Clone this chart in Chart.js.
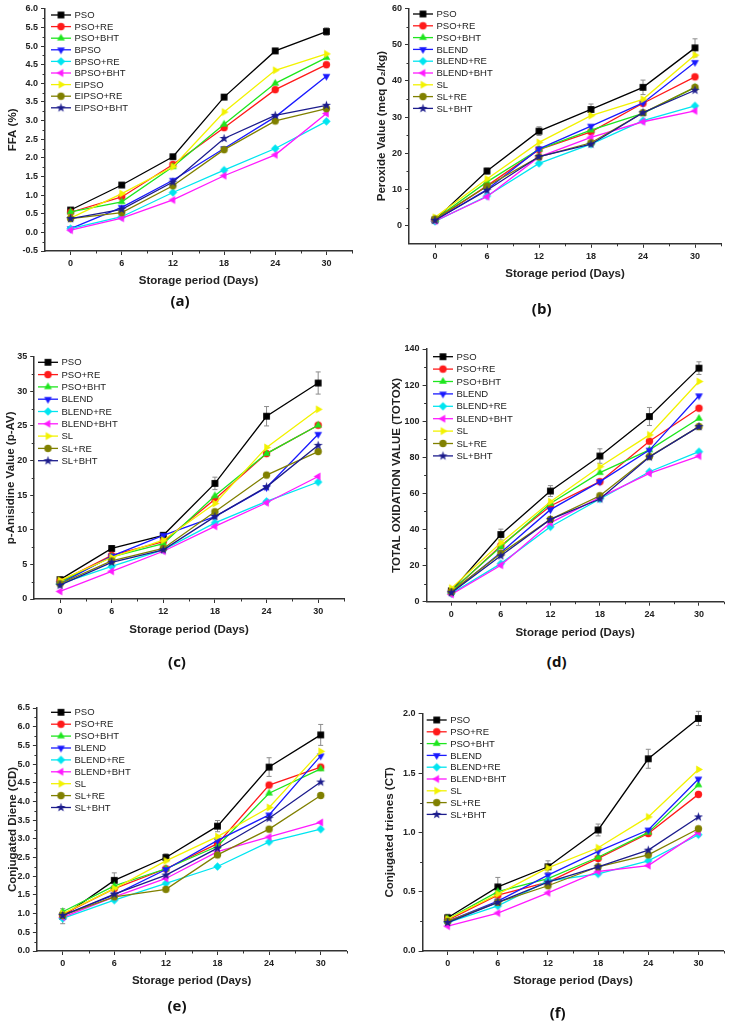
<!DOCTYPE html>
<html>
<head>
<meta charset="utf-8">
<script src="https://cdn.jsdelivr.net/npm/chart.js@4.4.0/dist/chart.umd.min.js"></script>
<style>
  body { margin: 0; background: #fff; }
  #page { position: relative; width: 729px; height: 1021px; overflow: hidden; }
  #page canvas { position: absolute; }
  .tag { position: absolute; font: bold 15px "Open Sans", Arial, sans-serif; color: #111; transform: translate(-50%, -50%); }
</style>
</head>
<body>
<div id="page"></div>
<script>
// storage days on the x axis
const days = [0, 6, 12, 18, 24, 30];
const dayTicks = [0, 6, 12, 18, 24, 30];

const namesTop = ["PSO", "PSO+RE", "PSO+BHT", "BPSO", "BPSO+RE", "BPSO+BHT", "EIPSO", "EIPSO+RE", "EIPSO+BHT"];
const namesRest = ["PSO", "PSO+RE", "PSO+BHT", "BLEND", "BLEND+RE", "BLEND+BHT", "SL", "SL+RE", "SL+BHT"];

const colors = ["#000000", "#ff1a1a", "#1ee61e", "#1a1aff", "#00e5f0", "#ff1aff", "#f2f200", "#808000", "#1c1c8c"];
const shapes = ["square", "circle", "up", "down", "diamond", "left", "right", "circle", "star"];

// (a) FFA (%)
const ffa = [
  [0.60, 1.27, 2.03, 3.63, 4.87, 5.39],
  [0.54, 0.95, 1.82, 2.81, 3.83, 4.50],
  [0.55, 0.82, 1.76, 2.90, 4.00, 4.69],
  [0.10, 0.67, 1.40, 2.25, 3.10, 4.19],
  [0.10, 0.42, 1.07, 1.67, 2.25, 2.98],
  [0.06, 0.38, 0.87, 1.52, 2.08, 3.19],
  [0.38, 1.04, 1.76, 3.23, 4.35, 4.79],
  [0.37, 0.53, 1.25, 2.22, 2.99, 3.32],
  [0.37, 0.62, 1.35, 2.52, 3.14, 3.41]
];
const ffaErr = [0.05, 0.05, 0.05, 0.07, 0.07, 0.1];

// (b) peroxide value
const peroxide = [
  [1.6, 15.1, 26.1, 32.1, 38.2, 49.1],
  [1.5, 11.0, 21.0, 25.9, 33.8, 41.1],
  [1.8, 12.1, 21.1, 26.4, 31.0, 38.2],
  [1.5, 10.0, 21.2, 27.5, 33.9, 45.1],
  [1.2, 8.2, 17.2, 22.5, 29.0, 33.1],
  [1.3, 8.0, 19.0, 24.4, 28.7, 31.7],
  [2.3, 12.9, 23.0, 30.4, 34.9, 47.1],
  [1.8, 10.9, 19.0, 22.9, 31.2, 38.2],
  [1.5, 9.8, 19.1, 22.5, 31.2, 37.4]
];
const peroxideErr = [0.3, 0.8, 1.2, 1.5, 2.0, 2.5];

// (c) p-anisidine value
const anisidine = [
  [2.8, 7.3, 9.2, 16.7, 26.4, 31.2],
  [2.5, 6.3, 8.3, 14.4, 21.0, 25.1],
  [2.4, 6.1, 8.0, 14.9, 21.0, 25.1],
  [2.2, 6.2, 9.2, 11.9, 16.1, 23.8],
  [2.2, 4.7, 7.1, 11.0, 14.1, 16.9],
  [1.1, 4.0, 6.9, 10.5, 13.9, 17.7],
  [2.7, 6.0, 8.5, 13.8, 21.9, 27.4],
  [2.2, 5.5, 7.3, 12.6, 17.9, 21.3],
  [2.0, 5.3, 7.1, 11.9, 16.2, 22.2]
];
const anisidineErr = [0.3, 0.4, 0.4, 0.9, 1.4, 1.6];

// (d) TOTOX
const totox = [
  [6.0, 37.2, 61.3, 80.7, 102.6, 129.4],
  [5.5, 31.0, 53.0, 66.5, 88.9, 107.2],
  [6.0, 30.4, 54.4, 71.5, 84.1, 101.5],
  [5.0, 27.2, 51.0, 66.5, 84.0, 114.1],
  [4.5, 21.1, 41.5, 56.9, 72.0, 83.1],
  [4.0, 20.2, 43.7, 57.8, 71.1, 80.7],
  [7.5, 32.6, 55.4, 74.8, 92.4, 122.0],
  [5.5, 26.7, 45.6, 58.7, 80.4, 97.0],
  [5.0, 25.4, 45.6, 56.9, 80.2, 97.0]
];
const totoxErr = [1, 3, 3, 4, 5, 3.5];

// (e) conjugated diene
const diene = [
  [0.93, 1.89, 2.50, 3.34, 4.92, 5.78],
  [0.98, 1.67, 2.20, 2.87, 4.44, 4.92],
  [1.05, 1.74, 2.20, 2.80, 4.22, 4.87],
  [0.95, 1.50, 2.18, 2.96, 3.64, 5.22],
  [0.87, 1.36, 1.81, 2.26, 2.92, 3.26],
  [0.90, 1.45, 1.94, 2.66, 3.05, 3.44],
  [1.00, 1.67, 2.41, 3.06, 3.84, 5.34],
  [0.95, 1.45, 1.65, 2.57, 3.26, 4.16],
  [0.95, 1.52, 2.03, 2.75, 3.55, 4.52]
];
const dieneErr = [0.2, 0.2, 0.1, 0.15, 0.25, 0.28];

// (f) conjugated trienes
const trienes = [
  [0.28, 0.54, 0.71, 1.02, 1.62, 1.96],
  [0.26, 0.47, 0.58, 0.78, 0.99, 1.32],
  [0.27, 0.50, 0.61, 0.79, 1.00, 1.40],
  [0.25, 0.42, 0.64, 0.84, 1.02, 1.45],
  [0.24, 0.38, 0.59, 0.65, 0.76, 0.98],
  [0.21, 0.32, 0.49, 0.67, 0.72, 1.00],
  [0.27, 0.48, 0.70, 0.87, 1.13, 1.53],
  [0.25, 0.41, 0.55, 0.71, 0.81, 1.03],
  [0.24, 0.41, 0.58, 0.71, 0.85, 1.13]
];
const trienesErr = [0.03, 0.08, 0.05, 0.05, 0.08, 0.06];

// where each panel sits on the page
const panels = [
  { tag: "(a)", names: namesTop, values: ffa, err: ffaErr, yTitle: "FFA (%)",
    yMin: -0.5, yMax: 6, tickStart: -0.5, yStep: 0.5, dec: 1,
    box: [0, 0, 365, 300], area: [45, 8.8, 352, 251], yTitleX: 12.5, xTitleY: 281,
    legend: [51, 15, 11.6], tagPos: [180, 300] },
  { tag: "(b)", names: namesRest, values: peroxide, err: peroxideErr, yTitle: "Peroxide Value (meq O\u2082/kg)",
    yMin: -5, yMax: 60, tickStart: 0, yStep: 10, dec: 0,
    box: [365, 0, 364, 300], area: [409, 8, 721, 243.8], yTitleX: 382, xTitleY: 274,
    legend: [413, 14, 11.8], tagPos: [541.7, 308] },
  { tag: "(c)", names: namesRest, values: anisidine, err: anisidineErr, yTitle: "p-Anisidine Value (p-AV)",
    yMin: 0, yMax: 35, tickStart: 0, yStep: 5, dec: 0,
    box: [0, 330, 365, 320], area: [34.2, 356.7, 344, 599], yTitleX: 10.7, xTitleY: 630,
    legend: [38, 362.3, 12.3], tagPos: [177, 661] },
  { tag: "(d)", names: namesRest, values: totox, err: totoxErr, yTitle: "TOTAL OXIDATION VALUE (TOTOX)",
    yMin: 0, yMax: 140, tickStart: 0, yStep: 20, dec: 0,
    box: [365, 330, 364, 320], area: [426.6, 349, 727, 601.7], yTitleX: 397, xTitleY: 632.7,
    legend: [433, 356.7, 12.4], tagPos: [556.7, 661] },
  { tag: "(e)", names: namesRest, values: diene, err: dieneErr, yTitle: "Conjugated Diene (CD)",
    yMin: 0, yMax: 6.5, tickStart: 0, yStep: 0.5, dec: 1,
    box: [0, 680, 365, 320], area: [36.9, 708, 346.5, 951], yTitleX: 12.5, xTitleY: 981,
    legend: [51, 712.3, 11.9], tagPos: [177, 1005] },
  { tag: "(f)", names: namesRest, values: trienes, err: trienesErr, yTitle: "Conjugated trienes (CT)",
    yMin: 0, yMax: 2, tickStart: 0, yStep: 0.5, dec: 1,
    box: [365, 680, 364, 320], area: [422.6, 713.7, 723.5, 951], yTitleX: 390, xTitleY: 980.7,
    legend: [426.7, 720, 11.8], tagPos: [557.7, 1012] }
];

Chart.defaults.font.family = '"Liberation Sans", Arial, sans-serif';
Chart.defaults.color = "#222";

// small filled marker drawn once and reused as a point style
function marker(shape, color) {
  const c = document.createElement("canvas");
  c.width = 11; c.height = 11;
  const g = c.getContext("2d");
  g.translate(5.5, 5.5);
  g.fillStyle = color;
  g.beginPath();
  const poly = (r, start, n) => {
    for (let k = 0; k < n; k++) {
      const a = (start + k * 360 / n) * Math.PI / 180;
      if (k === 0) g.moveTo(r * Math.cos(a), r * Math.sin(a));
      else g.lineTo(r * Math.cos(a), r * Math.sin(a));
    }
    g.closePath();
  };
  if (shape === "square") g.rect(-3.4, -3.4, 6.8, 6.8);
  else if (shape === "circle") g.arc(0, 0, 3.7, 0, Math.PI * 2);
  else if (shape === "up") poly(4.5, -90, 3);
  else if (shape === "down") poly(4.5, 90, 3);
  else if (shape === "left") poly(4.5, 180, 3);
  else if (shape === "right") poly(4.5, 0, 3);
  else if (shape === "diamond") poly(4.2, -90, 4);
  else if (shape === "star") {
    for (let k = 0; k < 10; k++) {
      const r = k % 2 ? 1.9 : 4.8;
      const a = (-90 + k * 36) * Math.PI / 180;
      if (k === 0) g.moveTo(r * Math.cos(a), r * Math.sin(a));
      else g.lineTo(r * Math.cos(a), r * Math.sin(a));
    }
    g.closePath();
  }
  g.fill();
  return c;
}

const markers = shapes.map((s, i) => marker(s, colors[i]));

const errorBars = {
  id: "errorBars",
  beforeDatasetsDraw(chart, args, opts) {
    const err = opts.values;
    if (!err) return;
    const ctx = chart.ctx, xs = chart.scales.x, ys = chart.scales.y;
    ctx.save();
    ctx.strokeStyle = "#8c8c8c";
    ctx.lineWidth = 1;
    chart.data.datasets[0].data.forEach((p, j) => {
      const x = xs.getPixelForValue(p.x);
      const y1 = ys.getPixelForValue(p.y + err[j]);
      const y2 = ys.getPixelForValue(p.y - err[j]);
      ctx.beginPath();
      ctx.moveTo(x, y1); ctx.lineTo(x, y2);
      ctx.moveTo(x - 2.5, y1); ctx.lineTo(x + 2.5, y1);
      ctx.moveTo(x - 2.5, y2); ctx.lineTo(x + 2.5, y2);
      ctx.stroke();
    });
    ctx.restore();
  }
};

// minor ticks between the labelled ones
const minorTicks = {
  id: "minorTicks",
  afterDraw(chart) {
    const ctx = chart.ctx, xs = chart.scales.x, ys = chart.scales.y;
    ctx.save();
    ctx.strokeStyle = "#333";
    ctx.lineWidth = 1;
    ctx.beginPath();
    for (let d = 3; d <= 33; d += 6) {
      const x = Math.round(xs.getPixelForValue(d)) + 0.5;
      ctx.moveTo(x, ys.bottom); ctx.lineTo(x, ys.bottom + 2.5);
    }
    const t = ys.ticks;
    for (let k = 0; k < t.length - 1; k++) {
      const y = Math.round(ys.getPixelForValue((t[k].value + t[k + 1].value) / 2)) + 0.5;
      ctx.moveTo(xs.left, y); ctx.lineTo(xs.left - 2.5, y);
    }
    ctx.stroke();
    ctx.restore();
  }
};

const insideLegend = {
  id: "insideLegend",
  afterDatasetsDraw(chart, args, opts) {
    const ctx = chart.ctx;
    ctx.save();
    ctx.font = '9.5px "Liberation Sans", Arial, sans-serif';
    ctx.textBaseline = "middle";
    ctx.textAlign = "left";
    chart.data.datasets.forEach((ds, i) => {
      const y = opts.y + i * opts.step;
      ctx.strokeStyle = ds.borderColor;
      ctx.lineWidth = 1.3;
      ctx.beginPath();
      ctx.moveTo(opts.x, y); ctx.lineTo(opts.x + 20, y);
      ctx.stroke();
      const m = ds.pointStyle;
      ctx.drawImage(m, opts.x + 10 - m.width / 2, y - m.height / 2);
      ctx.fillStyle = "#222";
      ctx.fillText(ds.label, opts.x + 23.5, y + 0.5);
    });
    ctx.restore();
  }
};

const page = document.getElementById("page");
const titleFont = { size: 11.5, weight: "bold", lineHeight: 1.2 };
const half = 11.5 * 1.2 / 2;

panels.forEach(p => {
  const [bx, by, bw, bh] = p.box;
  const [al, at, ar, ab] = p.area;
  const canvas = document.createElement("canvas");
  canvas.width = bw; canvas.height = bh;
  canvas.style.left = bx + "px"; canvas.style.top = by + "px";
  page.appendChild(canvas);

  const tag = document.createElement("div");
  tag.className = "tag";
  tag.textContent = p.tag;
  tag.style.left = p.tagPos[0] + "px"; tag.style.top = p.tagPos[1] + "px";
  page.appendChild(tag);

  const datasets = p.values.map((vals, i) => ({
    label: p.names[i],
    data: days.map((d, j) => ({ x: d, y: vals[j] })),
    borderColor: colors[i],
    backgroundColor: colors[i],
    borderWidth: 1.3,
    pointStyle: markers[i],
    pointRadius: 4,
    tension: 0,
    order: p.values.length - i
  }));

  new Chart(canvas, {
    type: "line",
    data: { datasets },
    plugins: [errorBars, minorTicks, insideLegend],
    options: {
      responsive: false,
      animation: false,
      devicePixelRatio: 1,
      layout: { padding: { left: 0, top: at - by, right: bx + bw - ar, bottom: 0 } },
      plugins: {
        legend: { display: false },
        tooltip: { enabled: false },
        errorBars: { values: p.err },
        insideLegend: { x: p.legend[0] - bx, y: p.legend[1] - by, step: p.legend[2] }
      },
      scales: {
        x: {
          type: "linear",
          min: -3, max: 33,
          afterBuildTicks: s => { s.ticks = dayTicks.map(v => ({ value: v })); },
          afterFit: s => { s.height = by + bh - ab; },
          ticks: { font: { size: 9, weight: "bold" }, color: "#222", padding: 3, maxRotation: 0 },
          grid: { drawOnChartArea: false, drawTicks: true, tickLength: 4, color: "#333" },
          border: { display: true, color: "#333", width: 1.5 },
          title: { display: true, text: "Storage period (Days)", font: titleFont, color: "#222",
                   padding: { top: 0, bottom: by + bh - p.xTitleY - half } }
        },
        y: {
          min: p.yMin, max: p.yMax,
          afterBuildTicks: s => {
            const t = [];
            for (let k = 0; ; k++) {
              const v = +(p.tickStart + k * p.yStep).toFixed(4);
              if (v > p.yMax + 1e-9) break;
              t.push({ value: v });
            }
            s.ticks = t;
          },
          afterFit: s => { s.width = al - bx; },
          ticks: { font: { size: 9, weight: "bold" }, color: "#222", padding: 3,
                   callback: v => Number(v).toFixed(p.dec) },
          grid: { drawOnChartArea: false, drawTicks: true, tickLength: 4, color: "#333" },
          border: { display: true, color: "#333", width: 1.5 },
          title: { display: true, text: p.yTitle, font: titleFont, color: "#222",
                   padding: { top: p.yTitleX - bx - half, bottom: 0 } }
        }
      }
    }
  });
});
</script>
</body>
</html>
